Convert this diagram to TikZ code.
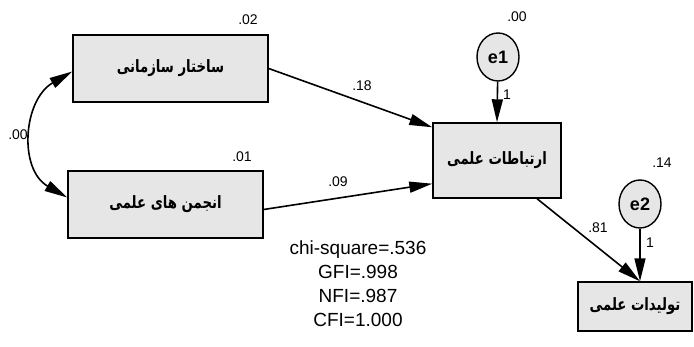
\documentclass[tikz,border=0pt]{standalone}
\usepackage{fontspec}
\setmainfont{Liberation Sans}
\newfontfamily\farsi[Script=Arabic, FakeStretch=0.78]{DejaVu Sans}
\TeXXeTstate=1
\usepackage{tikz}
\usetikzlibrary{arrows.meta, shapes.geometric}
\definecolor{boxfill}{HTML}{E6E6E6}

\begin{document}
\begin{tikzpicture}[x=1pt, y=-1pt, >={Triangle[length=23pt, width=11pt]},
      var/.style={rectangle, draw, line width=1.4pt, fill=boxfill, inner sep=0pt,
        minimum width=195pt, minimum height=67pt, font=\farsi\bfseries\fontsize{17}{19}\selectfont},
      err/.style={ellipse, draw, line width=1.4pt, fill=boxfill, inner sep=0pt,
        minimum width=42pt, minimum height=48pt, font=\bfseries\fontsize{18}{20}\selectfont},
      num/.style={font=\fontsize{14}{16}\selectfont, inner sep=0pt},
      path/.style={->, line width=1.6pt}]
  \useasboundingbox (0,0) rectangle (694,347);
  % observed variables
  \node[var] (b1) at (170.5,68.5) {\beginR ساختار سازمانی\endR};
  \node[var] (b2) at (165.5,204.5) {\beginR انجمن های علمی\endR};
  \node[var, minimum width=128pt, minimum height=75pt] (b3) at (497,160.5) {\beginR ارتباطات علمی\endR};
  \node[var, minimum width=114pt, minimum height=49pt] (b4) at (635,306.5) {\beginR تولیدات علمی\endR};
  % error terms
  \node[err] (e1) at (498,57) {e1};
  \node[err] (e2) at (640,204) {e2};
  % paths
  \draw[path] (b1.east) -- ([yshift=-5pt]b3.north west);
  \draw[path] ([yshift=-5pt]b2.east) -- ([yshift=15pt]b3.south west);
  \draw[path] ([xshift=40pt]b3.south) -- ([xshift=5pt]b4.north);
  \draw[path] (e1) -- (b3.north);
  \draw[path] (e2) -- ([xshift=5pt]b4.north);
  \draw[<->, line width=1.6pt] ([yshift=7pt]b2.west) to[out=150, in=210, looseness=1.15] ([yshift=-3pt]b1.west);
  % estimates
  \node[num] (r1) at (248,20) {.02};
  \node[num] (r2) at (242,157) {.01};
  \node[num] (r3) at (517,17) {.00};
  \node[num] (r4) at (662,163) {.14};
  \node[num] (c12) at (18,135) {.00};
  \node[num] (p13) at (362,86) {.18};
  \node[num] (p23) at (338,182) {.09};
  \node[num] (p34) at (598,228) {.81};
  \node[num] (w1) at (507,95) {1};
  \node[num] (w2) at (650,243) {1};
  % fit indices
  \node[align=center, inner sep=0pt, font=\fontsize{19}{24}\selectfont] (fit) at (358,283.5)
    {chi-square=.536\\GFI=.998\\NFI=.987\\CFI=1.000};
\end{tikzpicture}
\end{document}
